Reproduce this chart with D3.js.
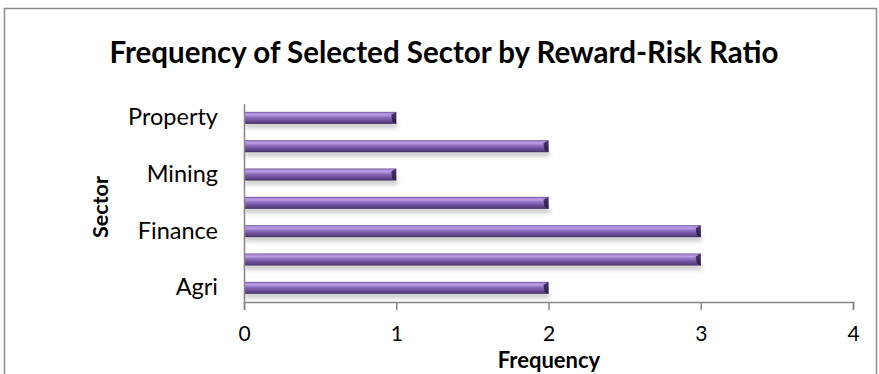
<!DOCTYPE html>
<html>
<head>
<meta charset="utf-8">
<script src="https://cdn.jsdelivr.net/npm/d3@7"></script>
<style>
  html, body { margin: 0; padding: 0; background: #fff; }
  svg { display: block; }
  text { font-family: Lato, "Open Sans", sans-serif; fill: #000; }
</style>
</head>
<body>
<script>
// Sectors listed bottom-to-top, with how often each one was selected
const sectors = ["Agri", "Basic-Ind", "Finance", "Infrastructure", "Mining", "Misc-Ind", "Property"];
const frequencies = [2, 3, 3, 2, 1, 2, 1];
const shownSectorLabels = ["Agri", "Finance", "Mining", "Property"];
const frequencyTicks = [0, 1, 2, 3, 4];

const W = 879, H = 374;
const svg = d3.select("body").append("svg").attr("width", W).attr("height", H);

const defs = svg.append("defs");
const grad = defs.append("linearGradient")
  .attr("id", "barFill").attr("x1", 0).attr("y1", 0).attr("x2", 0).attr("y2", 1);
[[0, "#5e4488"], [0.1, "#a988d6"], [0.25, "#bb9ee6"], [0.45, "#8e6ebe"], [0.7, "#6e509c"], [0.9, "#543d7c"], [1, "#3a2a58"]]
  .forEach(([o, c]) => grad.append("stop").attr("offset", o).attr("stop-color", c));

const endGrad = defs.append("linearGradient")
  .attr("id", "endFill").attr("x1", 0).attr("y1", 0).attr("x2", 0).attr("y2", 1);
[[0, "#4a3670"], [1, "#2a1d42"]]
  .forEach(([o, c]) => endGrad.append("stop").attr("offset", o).attr("stop-color", c));

const shadow = defs.append("filter").attr("id", "barShadow")
  .attr("x", "-5%").attr("y", "-100%").attr("width", "110%").attr("height", "300%");
shadow.append("feGaussianBlur").attr("stdDeviation", 2);

// Outer chart frame
svg.append("rect")
  .attr("x", 4.5).attr("y", 8.5).attr("width", 872).attr("height", 380)
  .attr("fill", "#fff").attr("stroke", "#8c8c8c").attr("stroke-width", 1.5);

const x = d3.scaleLinear().domain([0, 4]).range([244, 853]);
const y = d3.scaleBand().domain(sectors).range([302, 103.7]).paddingInner(0.576).paddingOuter(0.288);

const data = sectors.map((s, i) => ({ sector: s, value: frequencies[i] }));

// Soft shadows under the bars
svg.append("g").selectAll("rect").data(data).join("rect")
  .attr("x", x(0) + 1)
  .attr("y", d => y(d.sector) + y.bandwidth() - 1)
  .attr("width", d => x(d.value) - x(0))
  .attr("height", 5)
  .attr("fill", "#c4c4c4")
  .attr("filter", "url(#barShadow)");

// Bars
const bars = svg.append("g").selectAll("g").data(data).join("g");
bars.append("rect")
  .attr("x", x(0))
  .attr("y", d => y(d.sector))
  .attr("width", d => x(d.value) - x(0))
  .attr("height", y.bandwidth())
  .attr("fill", "url(#barFill)");
// Bevelled right end
bars.append("path")
  .attr("d", d => {
    const x1 = x(d.value), y0 = y(d.sector), h = y.bandwidth();
    return `M${x1 - 5},${y0 + 3} L${x1},${y0} L${x1},${y0 + h} L${x1 - 4},${y0 + h - 2} Z`;
  })
  .attr("fill", "url(#endFill)");

// Axes
const xAxis = svg.append("g").attr("transform", "translate(0,302)")
  .call(d3.axisBottom(x).tickValues(frequencyTicks).tickSize(8).tickPadding(16).tickFormat(d3.format("d")));
xAxis.select(".domain").attr("stroke", "#868686").attr("stroke-width", 1.5);
xAxis.selectAll(".tick line").attr("stroke", "#868686").attr("stroke-width", 1.5);
xAxis.selectAll(".tick text").attr("font-size", 21).attr("font-family", "Lato, sans-serif");

const yAxis = svg.append("g").attr("transform", "translate(244,0)")
  .call(d3.axisLeft(y).tickValues(shownSectorLabels).tickSize(0).tickPadding(26).tickSizeOuter(0));
yAxis.select(".domain").attr("stroke", "#868686").attr("stroke-width", 1.5);
yAxis.selectAll(".tick text").attr("font-size", 23.5).attr("font-family", "Lato, sans-serif");

// Titles
svg.append("text")
  .attr("x", 444).attr("y", 63).attr("text-anchor", "middle")
  .attr("font-size", 29.5).attr("font-weight", "bold")
  .text("Frequency of Selected Sector by Reward-Risk Ratio");

svg.append("text")
  .attr("x", 549).attr("y", 367.5).attr("text-anchor", "middle")
  .attr("font-size", 22).attr("font-weight", "bold")
  .text("Frequency");

svg.append("text")
  .attr("transform", "translate(108,207) rotate(-90)")
  .attr("text-anchor", "middle")
  .attr("font-size", 21.5).attr("font-weight", "bold")
  .text("Sector");
</script>
</body>
</html>
